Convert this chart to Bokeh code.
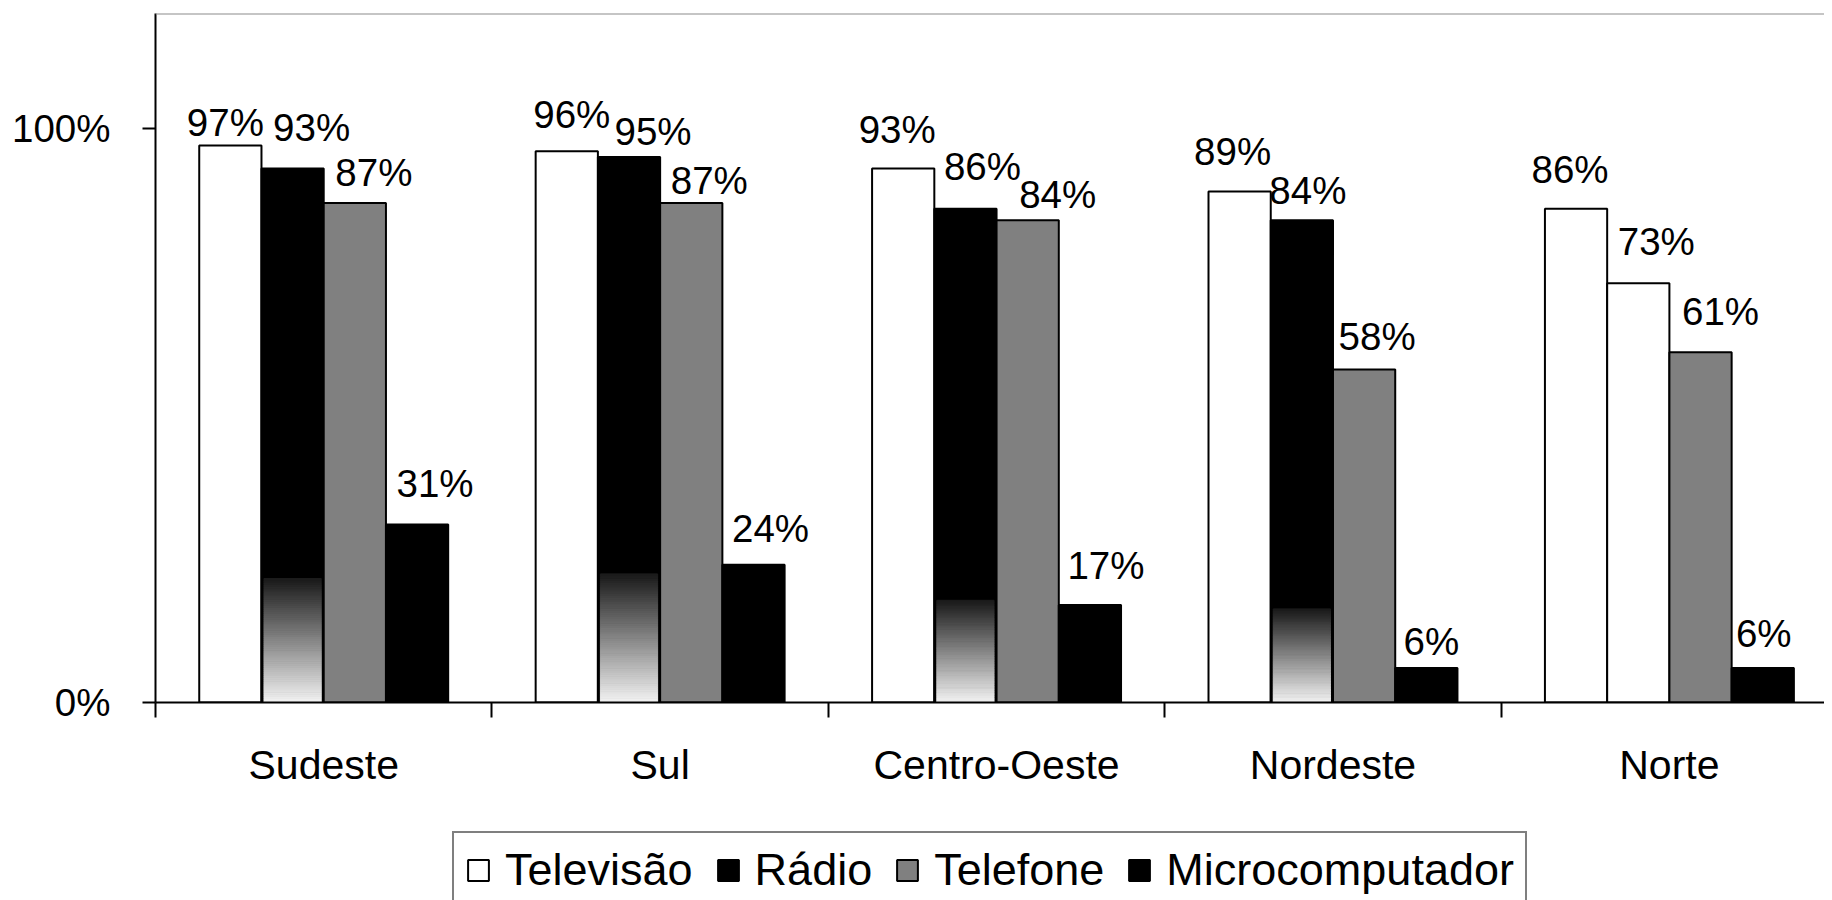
from bokeh.plotting import figure
from bokeh.layouts import column
from bokeh.models import (Range1d, FixedTicker, PrintfTickFormatter, ColumnDataSource,
                          Legend, LegendItem, Span)
from bokeh.core.properties import value
from bokeh.embed import file_html
from bokeh.resources import INLINE

# ---------------- data ----------------
regions = ["Sudeste", "Sul", "Centro-Oeste", "Nordeste", "Norte"]
series = ["Televisão", "Rádio", "Telefone", "Microcomputador"]
televisao = [97, 96, 93, 89, 86]
radio = [93, 95, 86, 84, 73]
telefone = [87, 87, 84, 58, 61]
microcomputador = [31, 24, 17, 6, 6]
y_ticks = [0, 100]

# ---------------- styles ----------------
FONT = "Liberation Sans"
BW = 0.185                      # bar width (category units)
GREY = "#808080"
series_fill = ["white", "black", GREY, "black"]
radio_fill = ["black", "black", "black", "black", "white"]
radio_gradient_top = [21.6, 22.4, 17.8, 16.3, 0]   # rendering artefact in the original
# label nudges in screen pixels (series order: TV, Rádio, Telefone, Micro)
label_dx = [[-5, 19, 19, 18], [5, 24, 18, 17], [-6, 17, 30, 16], [-7, 6, 13, 5], [-6, 18, 20, 1]]
label_dy = [[-23, -41, -30, -41], [-37, -26, -22, -36], [-39, -42, -26, -39],
            [-40, -30, -33, -27], [-39, -42, -41, -35]]

W = 1824
H_MAIN = 831
H_LEG = 69

p = figure(width=W, height=H_MAIN, output_backend="svg", toolbar_location=None,
           x_range=Range1d(0, 4.961), y_range=Range1d(0, 120),
           min_border_left=155, min_border_right=0, min_border_top=13, min_border_bottom=129)
p.outline_line_color = None
p.background_fill_color = "white"
p.border_fill_color = "white"
p.xgrid.visible = False
p.ygrid.visible = False

values = [televisao, radio, telefone, microcomputador]
fills = [[series_fill[0]] * 5, radio_fill, [series_fill[2]] * 5, [series_fill[3]] * 5]
n = len(regions)
for k, vals in enumerate(values):
    xs = [i + 0.5 + (k - 1.5) * BW for i in range(n)]
    src = ColumnDataSource(dict(x=xs, top=vals, fill=fills[k],
                                lbl=[f"{v}%" for v in vals],
                                dx=[label_dx[i][k] for i in range(n)],
                                dy=[label_dy[i][k] for i in range(n)]))
    p.vbar(x="x", top="top", bottom=0, width=BW, fill_color="fill",
           line_color="black", line_width=2, source=src)
    p.text(x="x", y="top", text="lbl", x_offset="dx", y_offset="dy", source=src,
           text_align="center", text_baseline="middle",
           text_font=value(FONT), text_font_size="38.5px", text_color="black")

# gradient artefact at the bottom of the Rádio bars
NS = 60
inset = 2.5 / 336
gl, gr, gb, gt, gc = [], [], [], [], []
for i in range(n):
    g = radio_gradient_top[i]
    if g <= 0:
        continue
    xc = i + 0.5 - 0.5 * BW
    for j in range(NS):
        t = (j + 0.5) / NS
        c = int(round(244 + (26 - 244) * t))
        gl.append(xc - BW / 2 + inset)
        gr.append(xc + BW / 2 - inset)
        gb.append(g * j / NS)
        gt.append(g * (j + 1) / NS)
        gc.append("#%02x%02x%02x" % (c, c, c))
p.quad(left=gl, right=gr, bottom=gb, top=gt, fill_color=gc, line_color=gc, line_width=1)

# top border
p.add_layout(Span(location=120, dimension="width", line_color="#8c8c8c", line_width=2))

# axes
xa = p.xaxis[0]
xa.ticker = FixedTicker(ticks=[i + 0.5 for i in range(n)], minor_ticks=list(range(n + 1)))
xa.major_label_overrides = {i + 0.5: regions[i] for i in range(n)}
xa.major_tick_out = 0
xa.major_tick_in = 0
xa.major_tick_line_color = None
xa.minor_tick_out = 15
xa.minor_tick_in = 0
xa.minor_tick_line_color = "black"
xa.minor_tick_line_width = 2
xa.axis_line_color = "black"
xa.axis_line_width = 2
xa.major_label_text_font = FONT
xa.major_label_text_font_size = "41px"
xa.major_label_text_color = "black"
xa.major_label_standoff = 24

ya = p.yaxis[0]
ya.ticker = FixedTicker(ticks=y_ticks)
ya.formatter = PrintfTickFormatter(format="%d%%")
ya.major_tick_out = 13
ya.major_tick_in = 0
ya.major_tick_line_color = "black"
ya.major_tick_line_width = 2
ya.minor_tick_line_color = None
ya.axis_line_color = "black"
ya.axis_line_width = 2
ya.major_label_text_font = FONT
ya.major_label_text_font_size = "38.5px"
ya.major_label_text_color = "black"
ya.major_label_standoff = 32

# ---------------- legend (separate strip below the chart) ----------------
pl = figure(width=W, height=H_LEG, output_backend="svg", toolbar_location=None,
            x_range=Range1d(0, 1), y_range=Range1d(0, 1),
            x_axis_location=None, y_axis_location=None,
            min_border_left=0, min_border_right=0, min_border_top=0, min_border_bottom=0)
pl.outline_line_color = None
pl.grid.visible = False
pl.background_fill_color = "white"
pl.border_fill_color = "white"
items = []
for k in range(4):
    # proxy bars below the visible range: they only carry the legend styling
    r = pl.vbar(x=[0.5], top=[-5], bottom=[-6], width=0.1, fill_color=series_fill[k],
                line_color="black", line_width=2)
    items.append(LegendItem(label=series[k], renderers=[r]))
legend = Legend(items=items, location=(297, -9), orientation="horizontal", margin=0,
                label_text_font=FONT, label_text_font_size="45px", label_text_color="black",
                glyph_width=26, glyph_height=26, label_standoff=14, spacing=22, padding=11,
                border_line_color="black", border_line_width=2,
                background_fill_color="white", background_fill_alpha=1.0)
pl.add_layout(legend)

layout = column(p, pl, spacing=0)
open("out.html", "w").write(file_html(layout, INLINE))
